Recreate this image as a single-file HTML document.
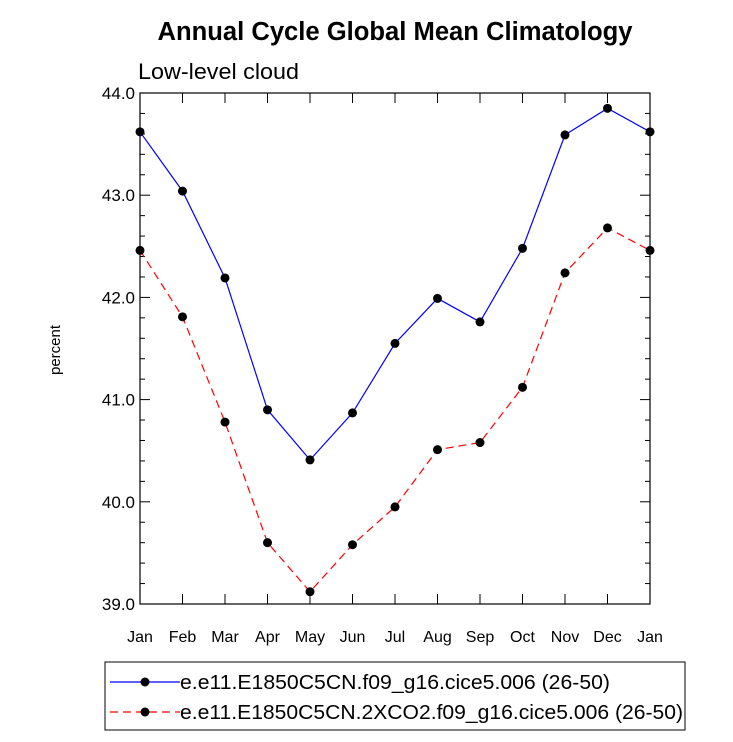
<!DOCTYPE html>
<html><head><meta charset="utf-8"><style>
body{margin:0;background:#fff;}
svg{font-family:"Liberation Sans",Arial,sans-serif;}
</style></head><body>
<svg id="chart" width="733" height="737" xmlns="http://www.w3.org/2000/svg">
<text x="395" y="40" text-anchor="middle" font-size="25.5" font-weight="bold" textLength="475" lengthAdjust="spacingAndGlyphs">Annual Cycle Global Mean Climatology</text>
<text x="138" y="79" font-size="22" textLength="161" lengthAdjust="spacingAndGlyphs">Low-level cloud</text>
<text transform="translate(60,350) rotate(-90)" text-anchor="middle" font-size="15">percent</text>
<g id="axes"></g>
<g id="series"></g>
<rect x="105" y="662" width="580" height="68" fill="none" stroke="#000" stroke-width="1"/>
<g>
<line x1="110" y1="682" x2="180" y2="682" stroke="#0000ff" stroke-width="1.2"/>
<circle cx="145" cy="682" r="4.5" fill="#000"/>
<text x="180" y="689" font-size="20" textLength="430" lengthAdjust="spacingAndGlyphs">e.e11.E1850C5CN.f09_g16.cice5.006 (26-50)</text>
</g>
<g>
<line x1="110" y1="712" x2="180" y2="712" stroke="#ff0000" stroke-width="1.2" stroke-dasharray="8,5"/>
<circle cx="145" cy="712" r="4.5" fill="#000"/>
<text x="180" y="719" font-size="20" textLength="503" lengthAdjust="spacingAndGlyphs">e.e11.E1850C5CN.2XCO2.f09_g16.cice5.006 (26-50)</text>
</g>
</svg>
<script>
const months = ["Jan","Feb","Mar","Apr","May","Jun","Jul","Aug","Sep","Oct","Nov","Dec","Jan"];
const controlValues = [43.62,43.04,42.19,40.90,40.41,40.87,41.55,41.99,41.76,42.48,43.59,43.85,43.62];
const co2Values = [42.46,41.81,40.78,39.60,39.12,39.58,39.95,40.51,40.58,41.12,42.24,42.68,42.46];
const yTicks = [39.0,40.0,41.0,42.0,43.0,44.0];
const yMin = 39.0, yMax = 44.0;
const X0 = 140, X1 = 650, Y0 = 604, Y1 = 93;
const NS = "http://www.w3.org/2000/svg";
function xs(i){ return X0 + i*(X1-X0)/(months.length-1); }
function ys(v){ return Y0 - (v-yMin)*(Y0-Y1)/(yMax-yMin); }
function mk(tag, attrs, parent){ const e=document.createElementNS(NS,tag); for(const k in attrs) e.setAttribute(k,attrs[k]); parent.appendChild(e); return e; }
const axes = document.getElementById('axes');
const frame = mk('rect',{x:X0,y:Y1,width:X1-X0,height:Y0-Y1,fill:'none',stroke:'#000','stroke-width':1.2},axes);


months.forEach((m,i)=>{
  const x=xs(i);
  mk('line',{x1:x,y1:Y0,x2:x,y2:Y0-10,stroke:'#000'},axes);
  mk('line',{x1:x,y1:Y1,x2:x,y2:Y1+10,stroke:'#000'},axes);
  const t=mk('text',{x:x,y:Y0+38,'text-anchor':'middle','font-size':16},axes);
  t.textContent=m;
  
  
});
for(let v=yMin; v<=yMax+1e-6; v+=0.2){
  const y=ys(v); const major=Math.abs(v-Math.round(v))<1e-6; const L=major?10:5;
  mk('line',{x1:X0,y1:y,x2:X0+L,y2:y,stroke:'#000'},axes);
  mk('line',{x1:X1,y1:y,x2:X1-L,y2:y,stroke:'#000'},axes);
}
yTicks.forEach(v=>{
  const t=mk('text',{x:X0-5,y:ys(v)+6,'text-anchor':'end','font-size':17},axes);
  t.textContent=v.toFixed(1);
  
  
});
const series=document.getElementById('series');
function draw(vals,color,dash,name){
  const g=mk('g',{},series);
  
  
  const pts=vals.map((v,i)=>xs(i)+','+ys(v)).join(' ');
  const pl=mk('polyline',{points:pts,fill:'none',stroke:color,'stroke-width':1.2},g);
  if(dash) pl.setAttribute('stroke-dasharray',dash);
  vals.forEach((v,i)=>{
    const c=mk('circle',{cx:xs(i),cy:ys(v),r:4.5,fill:'#000'},g);
    
    
  });
}
draw(controlValues,'#0000ff',null,'series-control');
draw(co2Values,'#ff0000','8,5','series-2xco2');
</script>
</body></html>
